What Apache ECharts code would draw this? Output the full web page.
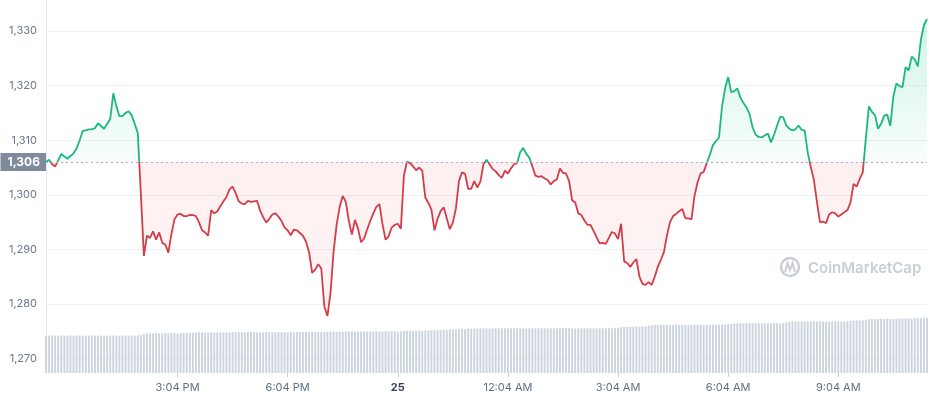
<!DOCTYPE html>
<html><head><meta charset="utf-8">
<script src="https://cdn.jsdelivr.net/npm/echarts@6/dist/echarts.min.js"></script>
<style>html,body{margin:0;padding:0;background:#fff}#chart{width:929px;height:400px}</style>
</head><body><div id="chart"></div>
<script>
// ---- data (5-minute points, 24 h) ----
const startTime = '11:29';
const stepMinutes = 5;
const pointCount = 289;

const price = [
1306.0,1306.4,1305.6,1305.2,1306.3,1307.5,1307.0,1306.6,1307.1,1307.6,
1308.5,1310.0,1311.7,1311.8,1312.0,1312.0,1312.2,1313.1,1312.6,1312.1,
1313.0,1313.9,1318.6,1316.2,1314.4,1314.4,1315.0,1315.3,1314.6,1313.0,
1311.3,1300.3,1288.8,1292.5,1292.1,1293.3,1291.8,1293.1,1291.2,1290.9,
1289.4,1292.8,1295.5,1296.4,1296.5,1296.1,1296.1,1296.3,1296.3,1296.1,
1295.0,1293.5,1293.1,1292.5,1297.2,1296.6,1297.0,1297.9,1298.8,1299.6,
1301.0,1301.5,1300.3,1298.8,1298.4,1298.3,1298.9,1298.7,1298.8,1298.9,
1297.1,1295.9,1294.9,1295.6,1296.4,1296.6,1296.0,1295.2,1294.0,1293.5,
1292.6,1293.6,1293.5,1293.0,1292.5,1291.4,1289.5,1285.7,1286.3,1287.3,
1286.5,1279.5,1277.8,1282.0,1289.5,1294.5,1297.8,1299.8,1298.7,1295.2,
1292.7,1295.4,1293.8,1291.3,1292.0,1293.7,1295.2,1296.6,1297.8,1298.3,
1294.6,1291.8,1292.4,1294.0,1294.5,1294.7,1293.8,1303.5,1306.1,1305.8,
1305.2,1304.5,1305.0,1304.4,1299.5,1298.5,1297.3,1293.5,1295.6,1297.0,
1297.7,1295.7,1293.7,1294.9,1297.5,1302.5,1304.1,1303.8,1301.1,1301.1,
1302.5,1301.3,1302.4,1305.6,1306.4,1305.6,1304.7,1304.3,1303.6,1303.1,
1304.4,1303.9,1304.8,1305.6,1305.8,1307.8,1308.6,1307.5,1306.8,1305.2,
1303.5,1303.3,1303.4,1303.0,1302.7,1301.9,1302.5,1302.8,1304.8,1304.0,
1303.9,1302.5,1299.0,1298.6,1296.6,1296.3,1295.3,1294.5,1294.5,1293.4,
1292.2,1291.1,1291.2,1291.0,1292.1,1293.2,1292.9,1291.9,1294.7,1287.8,
1287.5,1286.8,1287.6,1288.2,1285.0,1283.7,1283.5,1284.0,1283.5,1285.0,
1286.8,1288.1,1289.5,1292.6,1295.0,1296.1,1296.5,1297.0,1297.4,1295.7,
1295.7,1295.5,1299.8,1302.3,1303.9,1304.2,1305.8,1307.3,1309.1,1309.8,
1310.5,1316.2,1319.5,1321.6,1318.8,1319.0,1319.5,1317.8,1316.8,1316.0,
1314.8,1312.3,1311.0,1310.6,1310.5,1310.9,1311.2,1309.6,1311.0,1312.7,
1314.3,1314.2,1312.7,1312.1,1311.8,1312.0,1312.7,1311.9,1311.8,1307.8,
1305.1,1302.8,1298.8,1295.0,1295.1,1294.8,1296.4,1296.8,1296.6,1296.0,
1296.4,1296.8,1297.2,1298.6,1302.0,1301.5,1302.9,1304.1,1310.3,1316.2,
1315.2,1314.6,1312.1,1313.0,1314.5,1314.7,1312.6,1318.0,1320.4,1319.9,
1319.7,1323.4,1322.8,1325.3,1324.8,1323.5,1328.4,1331.1,1332.2
];

// rolling 24h volume (billions USD)
const volume = [
10.0,10.0,10.1,10.0,10.0,10.1,10.0,10.0,10.1,10.0,
10.0,10.1,10.0,10.0,10.0,10.1,10.0,10.0,10.1,10.0,
10.0,10.0,10.1,10.0,10.0,10.1,10.0,10.0,10.1,10.0,
10.1,10.2,10.5,10.6,10.6,10.6,10.7,10.6,10.6,10.7,
10.6,10.7,10.7,10.6,10.7,10.8,10.7,10.7,10.8,10.8,
10.9,10.9,10.9,10.8,10.9,10.9,10.9,10.9,10.8,10.9,
10.9,10.9,10.9,11.0,10.9,10.9,10.9,11.0,10.9,10.9,
10.9,10.9,11.0,10.9,10.9,10.9,11.0,10.9,10.9,10.9,
11.0,10.9,11.0,11.0,10.9,11.0,11.0,11.0,11.0,11.0,
11.0,11.0,11.1,11.1,11.1,11.0,11.1,11.1,11.1,11.1,
11.1,11.1,11.1,11.1,11.2,11.1,11.1,11.1,11.2,11.1,
11.1,11.2,11.1,11.2,11.2,11.1,11.2,11.3,11.3,11.3,
11.3,11.3,11.4,11.3,11.4,11.4,11.5,11.5,11.6,11.6,
11.6,11.6,11.7,11.7,11.7,11.7,11.8,11.8,11.9,11.9,
12.0,11.9,12.0,12.0,12.0,11.9,12.0,12.0,12.0,12.0,
12.0,12.0,11.9,12.0,12.0,12.0,12.0,11.9,12.0,12.0,
12.0,12.0,12.0,12.0,12.0,12.0,12.0,12.0,12.0,12.0,
12.0,12.0,12.0,11.9,12.0,12.0,12.0,12.0,12.0,12.0,
12.0,12.0,12.0,12.0,12.0,12.0,12.1,12.1,12.3,12.4,
12.4,12.4,12.4,12.5,12.4,12.5,12.5,12.7,12.8,12.9,
12.9,12.9,12.9,12.9,12.9,12.9,13.0,12.9,12.9,12.9,
12.9,12.9,13.0,12.9,12.9,12.9,12.9,12.9,13.0,12.9,
13.0,13.0,13.0,13.1,13.2,13.3,13.3,13.3,13.3,13.4,
13.3,13.3,13.3,13.4,13.3,13.3,13.3,13.3,13.4,13.3,
13.3,13.4,13.5,13.7,13.8,13.8,13.8,13.8,13.8,13.8,
13.8,13.9,13.8,13.8,13.8,13.8,13.8,13.8,13.9,13.8,
13.8,13.8,13.9,14.0,14.1,14.1,14.1,14.1,14.2,14.4,
14.5,14.5,14.5,14.5,14.5,14.6,14.5,14.5,14.5,14.6,
14.6,14.6,14.6,14.6,14.7,14.7,14.7,14.7,14.8
];

const baseline = 1306;
const baselineLabel = '1,306';
const tickTimes  = ['15:04','18:04','21:04','00:04','03:04','06:04','09:04'];
const tickLabels = ['3:04 PM','6:04 PM','25','12:04 AM','3:04 AM','6:04 AM','9:04 AM'];
const boldTick = '25';
const yMin = 1260, yMax = 1340, yStep = 10;

// category times
const categories = [];
{
  const [h0, m0] = startTime.split(':').map(Number);
  for (let i = 0; i < pointCount; i++) {
    const t = (h0 * 60 + m0 + i * stepMinutes) % 1440;
    const hh = String(Math.floor(t / 60)).padStart(2, '0');
    const mm = String(t % 60).padStart(2, '0');
    categories.push(hh + ':' + mm);
  }
}

const font = 'Inter, "Noto Sans", sans-serif';
const green = '#1bb77e', red = '#d63b48';
const isTick = (i, v) => tickTimes.indexOf(v) >= 0;

const chart = echarts.init(document.getElementById('chart'));
chart.setOption({
  animation: false,
  backgroundColor: '#fff',
  grid: [
    { left: 46, right: 2, top: -23.6, bottom: -13.2, outerBoundsMode: 'none', containLabel: false },
    { left: 46, right: 2, top: 0, bottom: 27, outerBoundsMode: 'none', containLabel: false }
  ],
  xAxis: [
    { type: 'category', gridIndex: 0, data: categories, boundaryGap: false, show: false },
    { type: 'category', gridIndex: 1, data: categories, boundaryGap: false,
      axisLine: { show: false },
      axisTick: { show: true, interval: isTick, length: 4, lineStyle: { color: '#c8ced8' } },
      axisLabel: {
        interval: isTick, margin: 9, color: '#616e85', fontSize: 11, fontFamily: font,
        formatter: v => { const t = tickLabels[tickTimes.indexOf(v)]; return t === boldTick ? '{b|' + t + '}' : t; },
        rich: { b: { fontWeight: 'bold', color: '#3a4150', fontSize: 11, fontFamily: font } }
      },
      splitLine: { show: false } }
  ],
  yAxis: [
    { type: 'value', gridIndex: 0, min: yMin, max: yMax, interval: yStep,
      axisLine: { show: false }, axisTick: { show: false },
      axisLabel: { color: '#6b778c', fontSize: 11, margin: 9, fontFamily: font,
        formatter: v => v.toLocaleString('en-US') },
      splitLine: { lineStyle: { color: '#eff2f5', width: 1 } } },
    { type: 'value', gridIndex: 1, min: 0, max: 100,
      axisLine: { show: true, lineStyle: { color: '#e6e9ef' } },
      axisTick: { show: false }, axisLabel: { show: false }, splitLine: { show: false } }
  ],
  visualMap: {
    show: false, type: 'piecewise', seriesIndex: 1, dimension: 1,
    pieces: [ { gt: baseline, lte: 100000, color: green }, { gt: 0, lte: baseline, color: red } ]
  },
  series: [
    { type: 'bar', xAxisIndex: 1, yAxisIndex: 1, data: volume,
      barCategoryGap: '38%', itemStyle: { color: '#cbd3dd' }, silent: true },
    { type: 'line', xAxisIndex: 0, yAxisIndex: 0, data: price,
      symbol: 'none', lineStyle: { width: 1.8 },
      areaStyle: {
        origin: baseline,
        color: { type: 'linear', x: 0, y: 0, x2: 0, y2: 400, global: true,
          colorStops: [
            { offset: 0.03, color: 'rgba(22,199,132,0.30)' },
            { offset: 0.40, color: 'rgba(22,199,132,0.04)' },
            { offset: 0.405, color: 'rgba(234,57,67,0.11)' },
            { offset: 0.80, color: 'rgba(234,57,67,0.07)' }
          ] }
      },
      markLine: {
        silent: true, symbol: ['none', 'none'],
        lineStyle: { type: [2, 3], color: '#a6b0c3', width: 1 },
        label: { position: 'start', distance: 0, formatter: baselineLabel,
          color: '#fff', fontWeight: 'bold', fontSize: 12, fontFamily: font,
          backgroundColor: '#808a9d', padding: [3, 6, 3, 7] },
        data: [ { yAxis: baseline } ]
      } }
  ],
  graphic: [
    { type: 'circle', silent: true, shape: { cx: 790, cy: 267, r: 9 },
      style: { fill: 'none', stroke: '#c9ced6', lineWidth: 2.4 } },
    { type: 'polyline', silent: true,
      shape: { points: [[785, 272], [787.5, 263], [790, 270], [792.5, 263], [795, 272]] },
      style: { fill: 'none', stroke: '#c9ced6', lineWidth: 2 } },
    { type: 'text', silent: true, x: 808, y: 268,
      style: { text: 'CoinMarketCap', fill: '#c9ced6', font: '600 15px Inter, sans-serif', verticalAlign: 'middle' } }
  ]
});
</script>
</body></html>
